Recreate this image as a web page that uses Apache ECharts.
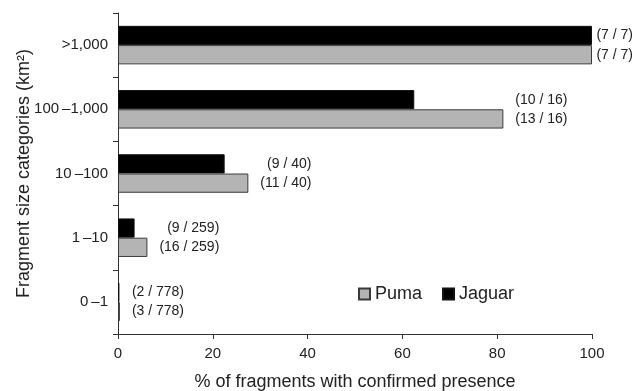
<!DOCTYPE html>
<html>
<head>
<meta charset="utf-8">
<script src="https://cdn.jsdelivr.net/npm/echarts@6/dist/echarts.min.js"></script>
<style>html,body{margin:0;padding:0;background:#fff}#c{width:634px;height:391px}</style>
</head>
<body>
<div id="c"></div>
<script>
// ---- data ----
const categories = ['0\u2009\u20131', '1\u2009\u201310', '10\u2009\u2013100', '100\u2009\u20131,000', '>1,000'];
const pumaValues = [0.4, 6.2, 27.5, 81.3, 100];
const jaguarValues = [0.3, 3.5, 22.5, 62.5, 100];
const pumaLabels = ['(3 / 778)', '(16 / 259)', '(11 / 40)', '(13 / 16)', '(7 / 7)'];
const jaguarLabels = ['(2 / 778)', '(9 / 259)', '(9 / 40)', '(10 / 16)', '(7 / 7)'];
const xTicks = [0, 20, 40, 60, 80, 100];

const FONT = '"Liberation Sans", Arial, Helvetica, sans-serif';
const LABEL_SIZE = 14;
const chart = echarts.init(document.getElementById('c'), null, {renderer: 'canvas'});

function makeOption(pumaData, jaguarData) {
  return {
    animation: false,
    backgroundColor: '#fff',
    textStyle: {fontFamily: FONT},
    grid: {left: 118, right: 42, top: 13, bottom: 57, containLabel: false, outerBoundsMode: 'none'},
    legend: {
      data: ['Puma', 'Jaguar'],
      left: 353, top: 280,
      icon: 'rect', itemWidth: 11, itemHeight: 11, itemGap: 20,
      textStyle: {fontSize: 18, color: '#222', fontFamily: FONT}
    },
    xAxis: {
      type: 'value', min: xTicks[0], max: xTicks[xTicks.length - 1], interval: 20,
      name: '% of fragments with confirmed presence',
      nameLocation: 'middle', nameGap: 39, nameMoveOverlap: false,
      nameTextStyle: {fontSize: 18, color: '#222', fontFamily: FONT},
      axisLine: {show: true, lineStyle: {color: '#333', width: 1}},
      axisTick: {show: true, length: 5, lineStyle: {color: '#333'}},
      axisLabel: {fontSize: 15, color: '#222', margin: 12, fontFamily: FONT},
      splitLine: {show: false}
    },
    yAxis: {
      type: 'category', data: categories,
      name: 'Fragment size categories (km\u00b2)',
      nameLocation: 'middle', nameGap: 85, nameRotate: 90, nameMoveOverlap: false,
      nameTextStyle: {fontSize: 18, color: '#222', fontFamily: FONT},
      axisLine: {show: true, lineStyle: {color: '#333', width: 1}},
      axisTick: {show: true, length: 5, lineStyle: {color: '#333'}},
      axisLabel: {fontSize: 15, color: '#222', margin: 10, fontFamily: FONT}
    },
    series: [
      {
        name: 'Jaguar', type: 'bar', data: jaguarData,
        barGap: '0%', barCategoryGap: '40%',
        itemStyle: {color: '#000', borderColor: '#111', borderWidth: 1},
        label: {show: true, position: 'right', distance: 0, fontSize: LABEL_SIZE, color: '#222', fontFamily: FONT,
                formatter: p => jaguarLabels[p.dataIndex]}
      },
      {
        name: 'Puma', type: 'bar', data: pumaData,
        barGap: '0%', barCategoryGap: '40%',
        itemStyle: {color: '#b4b4b4', borderColor: '#3a3a3a', borderWidth: 1},
        label: {show: true, position: 'right', distance: 0, fontSize: LABEL_SIZE, color: '#222', fontFamily: FONT,
                formatter: p => pumaLabels[p.dataIndex]}
      }
    ]
  };
}

chart.setOption(makeOption(pumaValues, jaguarValues));

// place annotation labels right-aligned per category, just beyond the longer bar
const cv = document.createElement('canvas').getContext('2d');
cv.font = LABEL_SIZE + 'px ' + FONT;
const tw = t => cv.measureText(t).width;
const pad = 12;
const pumaData = [], jaguarData = [];
categories.forEach((c, i) => {
  const maxV = Math.max(pumaValues[i], jaguarValues[i]);
  const endPx = chart.convertToPixel({gridIndex: 0}, [maxV, i])[0];
  const w = Math.max(tw(pumaLabels[i]), tw(jaguarLabels[i]));
  const anchor = Math.min(endPx + pad + w, 633);
  const pEnd = chart.convertToPixel({gridIndex: 0}, [pumaValues[i], i])[0];
  const jEnd = chart.convertToPixel({gridIndex: 0}, [jaguarValues[i], i])[0];
  pumaData.push({value: pumaValues[i], label: {offset: [anchor - tw(pumaLabels[i]) - pEnd, 0]}});
  jaguarData.push({value: jaguarValues[i], label: {offset: [anchor - tw(jaguarLabels[i]) - jEnd, 0]}});
});
chart.setOption(makeOption(pumaData, jaguarData));
</script>
</body>
</html>
